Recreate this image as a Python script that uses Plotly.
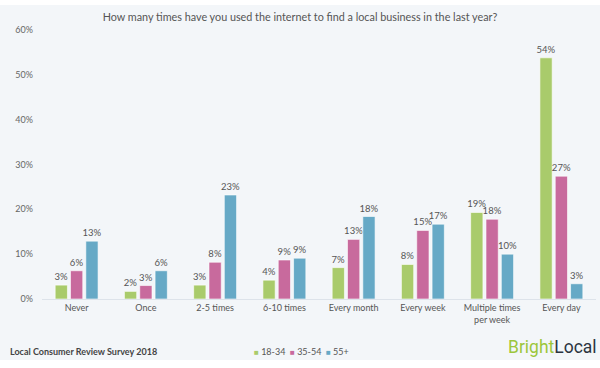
import plotly.graph_objects as go

categories = ["Never", "Once", "2-5 times", "6-10 times", "Every month", "Every week",
              "Multiple times<br>per week", "Every day"]
age_18_34 = [3.1, 1.7, 3.1, 4.2, 7.0, 7.7, 19.3, 53.8]
age_35_54 = [6.3, 3.0, 8.2, 8.7, 13.3, 15.3, 17.8, 27.4]
age_55_plus = [12.9, 6.3, 23.2, 9.1, 18.4, 16.7, 10.0, 3.4]
series_names = ["18-34", "35-54", "55+"]
colors = ["#a9cb6b", "#c86a9d", "#66a9c6"]
tick_vals = [0, 10, 20, 30, 40, 50, 60]
tick_text = ["0%", "10%", "20%", "30%", "40%", "50%", "60%"]

FONT = "Lato, Open Sans, sans-serif"
fig = go.Figure()
for name, vals, col in zip(series_names, [age_18_34, age_35_54, age_55_plus], colors):
    fig.add_trace(go.Bar(
        x=categories, y=vals, name=name,
        marker=dict(color=col, line=dict(color="rgba(255,255,255,0.6)", width=1)),
        text=[f"{round(v)}%" for v in vals], textposition="outside",
        constraintext="none",
        textfont=dict(size=9.5, color="#555555", family=FONT),
        cliponaxis=False, showlegend=False,
    ))

legend_text = "&nbsp;&nbsp;".join(
    f"<span style='color:{c};font-size:8px'>■</span> {n}" for n, c in zip(series_names, colors))

fig.update_layout(
    width=600, height=368,
    barmode="group", bargap=0.336, bargroupgap=0.2,
    paper_bgcolor="white", plot_bgcolor="rgba(0,0,0,0)",
    margin=dict(l=42, r=4, t=30, b=69),
    font=dict(family=FONT, color="#555555"),
    title=dict(text="How many times have you used the internet to find a local business in the last year?",
               x=0.5, xanchor="center", y=0.953, yanchor="middle",
               font=dict(size=10.8, color="#555555", family=FONT)),
    xaxis=dict(showgrid=False, showline=True, linecolor="#dde3ea", linewidth=1,
               tickfont=dict(size=9, color="#555555"), ticks=""),
    yaxis=dict(range=[0, 60], tickvals=tick_vals, ticktext=tick_text, showgrid=False,
               zeroline=False, tickfont=dict(size=9, color="#666666"), ticks="",
               ticklabelstandoff=8),
    shapes=[dict(type="rect", xref="paper", yref="paper", x0=-0.1, x1=1.1,
                 y0=-0.227, y1=1.093, fillcolor="#f3f6f9", line=dict(width=0), layer="below")],
    annotations=[
        dict(text="<b>Local Consumer Review Survey 2018</b>", xref="paper", yref="paper",
             x=-0.062, y=-0.197, xanchor="left", yanchor="middle", showarrow=False,
             font=dict(size=9, color="#444444", family=FONT)),
        dict(text=legend_text, xref="paper", yref="paper",
             x=0.379, y=-0.197, xanchor="left", yanchor="middle", showarrow=False,
             font=dict(size=9, color="#555555", family=FONT)),
        dict(text="<span style='color:#9cc63b'>Bright</span><span style='color:#2b3440'>Local</span>",
             xref="paper", yref="paper", x=1.005, y=-0.18, xanchor="right", yanchor="middle",
             showarrow=False,
             font=dict(size=17.5, family="Roboto, sans-serif")),
    ],
)
fig.write_html("out.html", config={"displayModeBar": False},
               post_script="document.body.style.margin='0';")
